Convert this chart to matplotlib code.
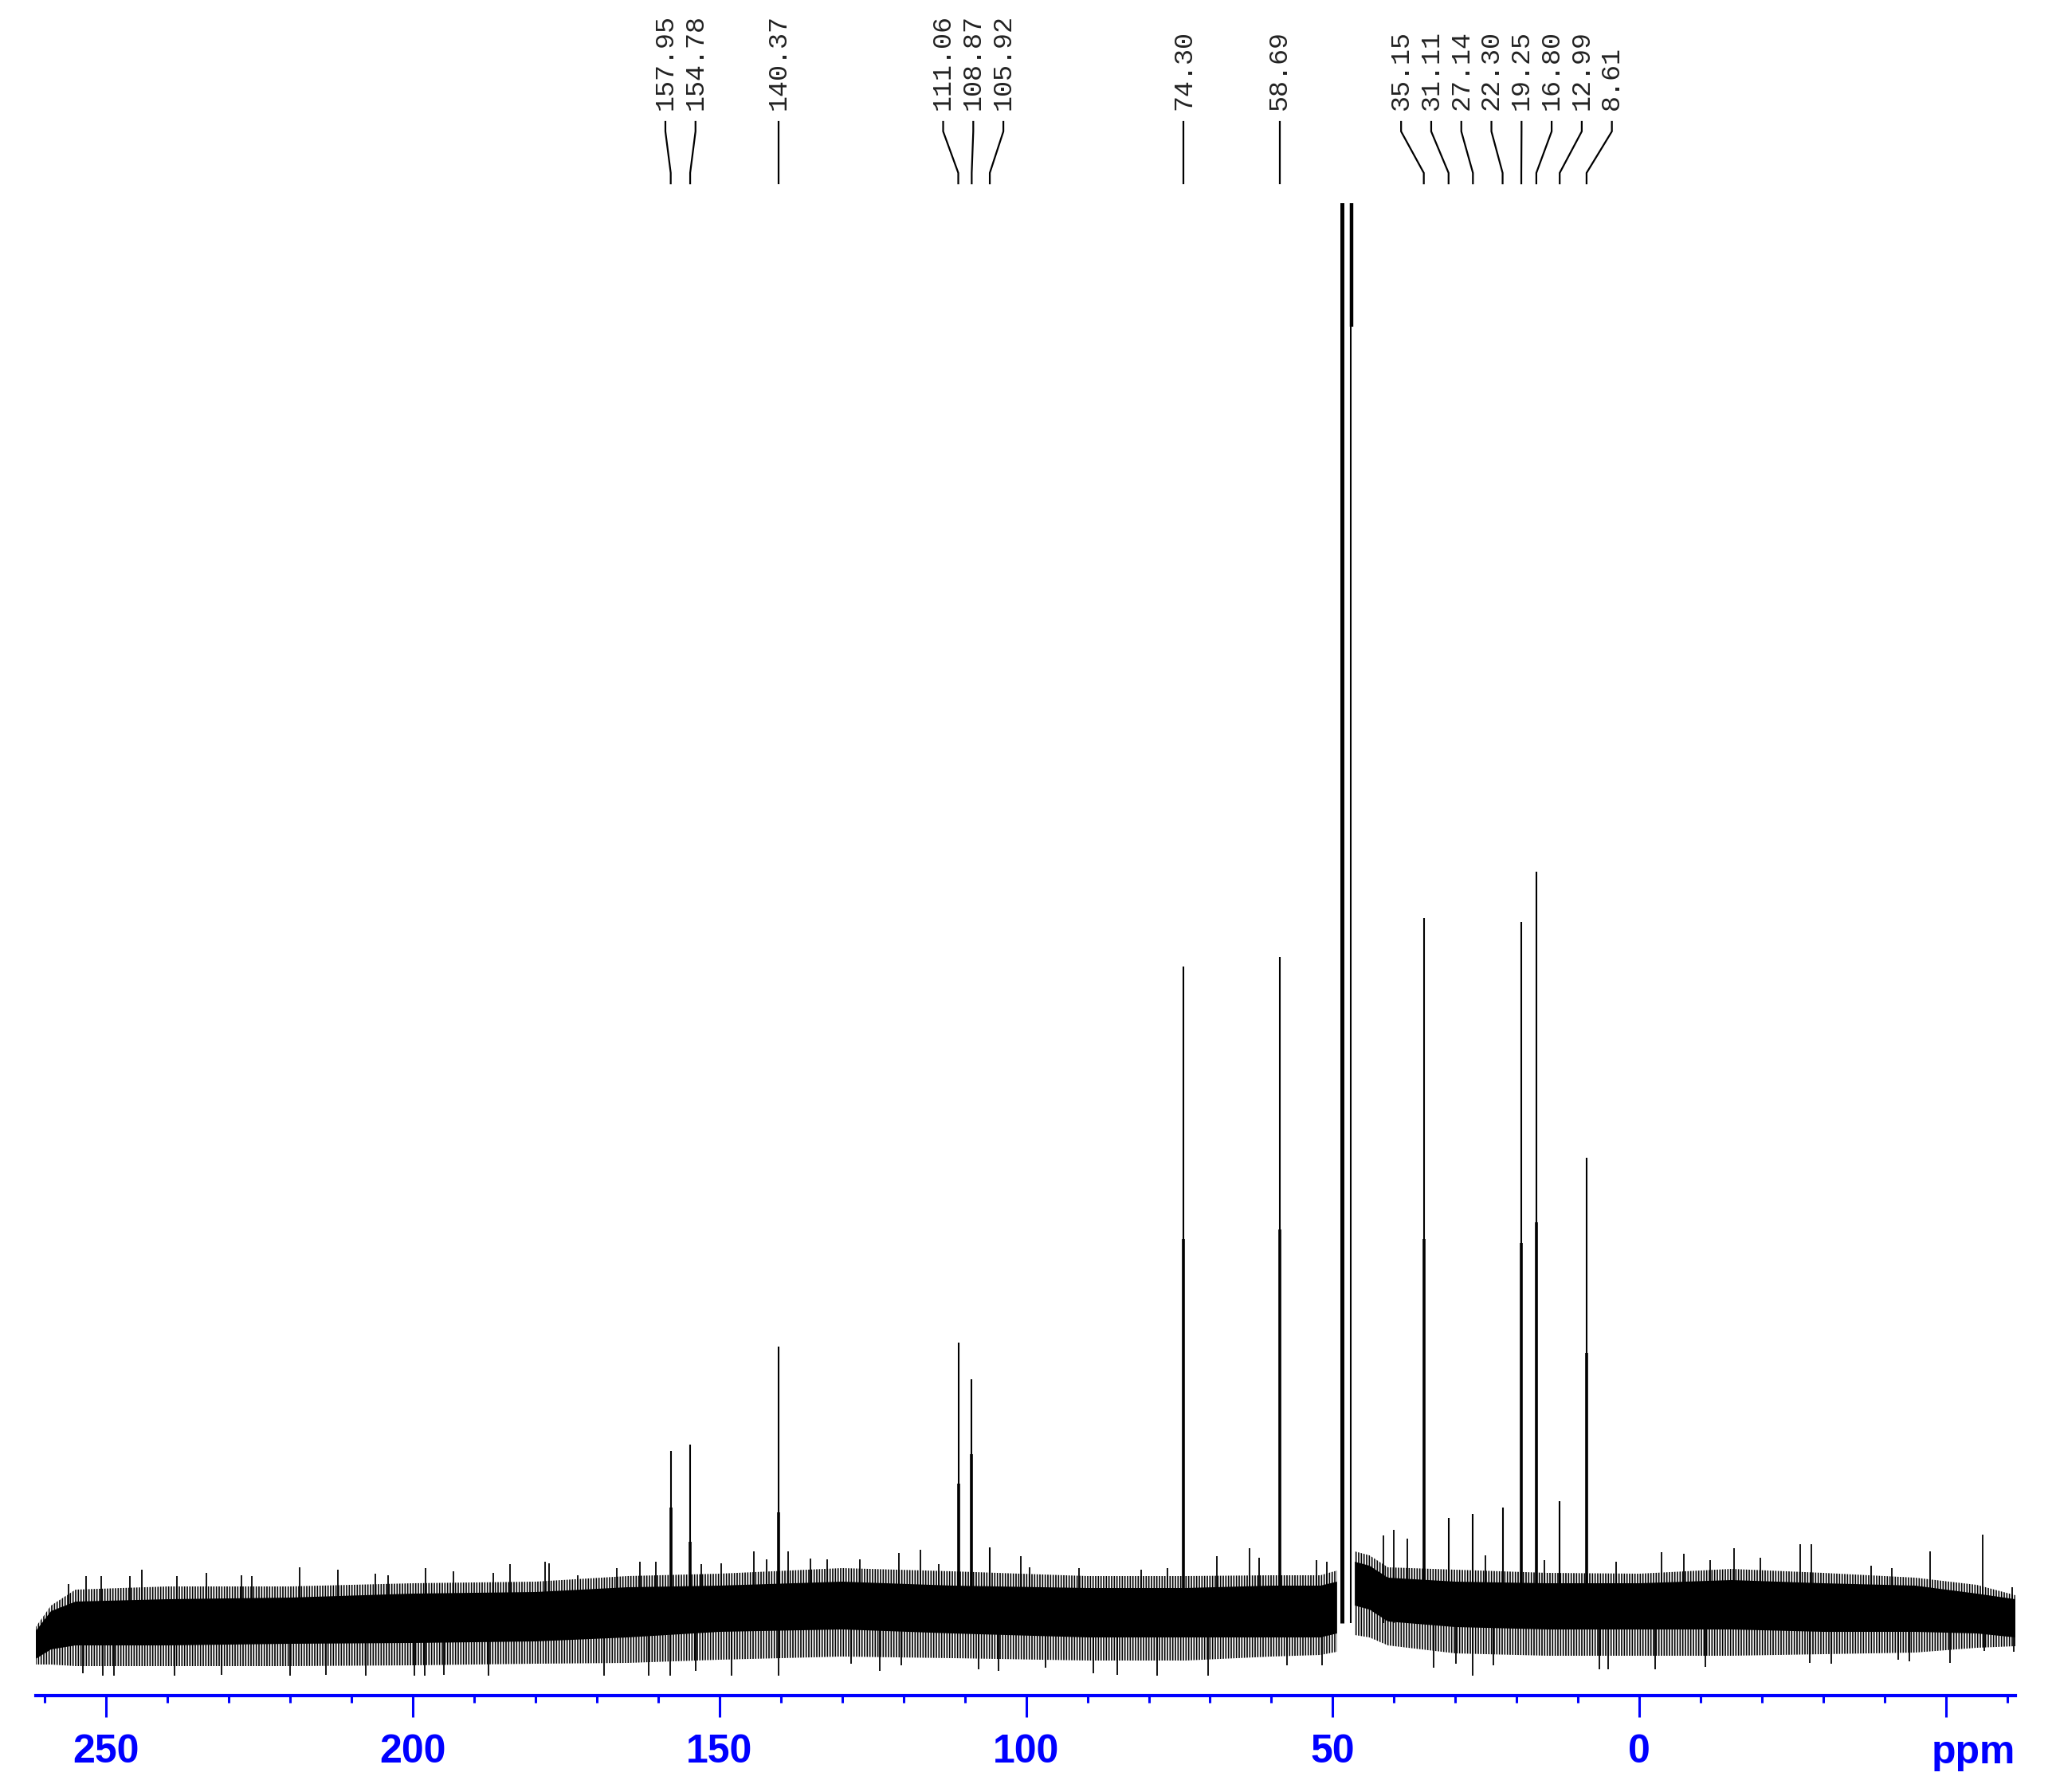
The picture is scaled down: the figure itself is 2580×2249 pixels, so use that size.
import numpy as np
import matplotlib.pyplot as plt
from matplotlib.transforms import blended_transform_factory

plt.rcParams['font.family'] = ['Liberation Sans', 'DejaVu Sans']
plt.rcParams['hatch.linewidth'] = 1.2

# labelled 13C peaks (ppm), their heights (a.u., baseline = 0)
# and the height up to which the line looks thicker
peak_ppm = [157.95, 154.78, 140.37, 111.06, 108.87, 105.92, 74.30, 58.69,
            35.15, 31.11, 27.14, 22.30, 19.25, 16.80, 12.99, 8.61]
peak_height = [21.6, 22.4, 34.7, 35.2, 30.6, 9.5, 82.4, 83.6,
               88.5, 13.2, 13.7, 14.5, 88.0, 94.3, 15.3, 58.4]
peak_shoulder = [14.5, 10.2, 13.9, 17.5, 21.2, 0, 48.2, 49.4,
                 48.2, 0, 0, 0, 47.7, 50.3, 0, 33.9]

# solvent lines (run off the top of the plot)
solvent_ppm = [48.55, 47.05, 46.98]
solvent_low = [0, 0, 162.7]
solvent_high = [200, 200, 200]

# noise spikes sticking out of the band
spike_up_ppm = [256.2, 253.3, 250.8, 246.2, 244.2, 238.5, 233.7, 227.9, 226.3,
                218.5, 212.2, 206.1, 204.0, 197.9, 193.4, 186.9, 184.1, 178.4,
                177.8, 173.1, 166.8, 163.0, 160.4, 153.0, 149.7, 144.4, 142.3,
                138.8, 135.2, 132.5, 127.1, 120.7, 117.2, 114.2, 100.9, 99.4,
                91.4, 81.3, 77.0, 68.9, 63.6, 62.0, 52.7, 50.9, 41.8, 40.1,
                37.8, 25.1, 15.5, 3.8, -3.6, -7.3, -11.5, -15.4, -19.7, -26.2,
                -28.0, -37.8, -41.2, -47.4, -56.0, -60.8]
spike_up = [4.9, 5.9, 5.9, 5.9, 6.7, 5.9, 6.3, 6.0, 5.9,
            7.0, 6.7, 6.2, 6.0, 6.9, 6.5, 6.3, 7.4, 7.7,
            7.5, 6.0, 6.9, 7.7, 7.7, 7.4, 7.5, 9.0, 8.0,
            9.0, 8.1, 8.0, 8.0, 8.8, 9.2, 7.4, 8.4, 7.0,
            6.9, 6.7, 6.9, 8.4, 9.4, 8.2, 7.9, 7.7, 11.0, 11.7,
            10.6, 8.5, 7.9, 7.7, 8.9, 8.7, 7.9, 9.4, 8.2, 9.9,
            9.9, 7.2, 6.9, 9.0, 11.1, 4.5]
spike_down_ppm = [253.8, 250.5, 248.8, 238.9, 231.2, 220.0, 214.2, 207.7, 199.8,
                  198.0, 195.0, 187.7, 168.8, 161.5, 158.1, 153.9, 148.0, 140.3,
                  128.5, 123.9, 120.3, 107.8, 104.5, 96.8, 89.1, 85.2, 78.7,
                  70.3, 57.4, 51.8, 33.5, 29.9, 27.2, 23.8, 6.5, 5.1, -2.6,
                  -10.8, -27.8, -31.3, -42.2, -44.0, -50.6, -56.2, -61.0]
spike_down = [-6.3, -6.6, -6.6, -6.6, -6.5, -6.6, -6.5, -6.6, -6.6,
              -6.6, -6.5, -6.6, -6.6, -6.6, -6.6, -6.0, -6.6, -6.6,
              -5.1, -6.0, -5.3, -5.8, -6.0, -5.6, -6.3, -6.5, -6.6,
              -6.6, -5.3, -5.3, -5.6, -5.1, -6.6, -5.3, -5.8, -5.8, -5.8,
              -5.5, -5.0, -5.1, -4.6, -4.8, -5.0, -3.5, -3.6]

# noise band (nan = gap under the solvent lines)
noise_ppm = [261.5, 259, 255, 240, 220, 200, 180, 165, 150, 130, 112, 90, 74,
             60, 52, 49.3, np.nan, 46.4, 44, 41, 30, 15, 0, -15, -30, -45, -55, -61.3]
noise_fringe_top = [-0.5, 2.2, 4.2, 4.6, 4.6, 5.0, 5.2, 5.9, 6.2, 6.9, 6.5, 5.9, 5.9,
                    6.0, 6.0, 6.6, np.nan, 9.0, 8.5, 7.0, 6.7, 6.3, 6.2, 6.8, 6.3, 5.7, 4.8, 3.5]
noise_core_top = [-1.0, 1.5, 2.7, 3.0, 3.2, 3.7, 3.9, 4.5, 4.7, 5.2, 4.7, 4.4, 4.4,
                  4.7, 4.7, 5.2, np.nan, 7.7, 7.2, 5.7, 5.2, 5.0, 5.0, 5.4, 5.0, 4.7, 3.7, 3.0]
noise_core_bottom = [-4.5, -3.3, -2.8, -2.8, -2.6, -2.5, -2.3, -1.8, -1.1, -0.8, -1.3, -1.8, -1.8,
                     -1.8, -1.8, -1.3, np.nan, 2.2, 1.7, 0.2, -0.5, -0.8, -0.8, -0.8, -1.1, -1.1, -1.3, -1.8]
noise_fringe_bottom = [-5.2, -5.2, -5.4, -5.4, -5.4, -5.3, -5.1, -5.0, -4.6, -4.2, -4.4, -4.7, -4.7,
                       -4.2, -4.0, -3.6, np.nan, -1.5, -1.8, -2.8, -3.8, -4.1, -4.1, -4.1, -3.9, -3.7, -3.1, -2.9]

tick_values = [250, 200, 150, 100, 50, 0, -50]
tick_labels = ['250', '200', '150', '100', '50', '0', '']


def spread_labels(positions, gap):
    # group peaks whose labels would overlap and space them evenly
    groups = [[p] for p in positions]
    changed = True
    while changed:
        changed = False
        for i in range(len(groups) - 1):
            a, b = groups[i], groups[i + 1]
            a_last = np.mean(a) - gap * (len(a) - 1) / 2
            b_first = np.mean(b) + gap * (len(b) - 1) / 2
            if a_last - b_first < gap:
                groups[i] = a + b
                del groups[i + 1]
                changed = True
                break
    out = []
    for g in groups:
        c = np.mean(g)
        n = len(g)
        out += [c + gap * ((n - 1) / 2 - k) for k in range(n)]
    return out


fig = plt.figure(figsize=(25.8, 22.49), dpi=100)
ax = fig.add_axes([0.01736, 0.0538, 0.96284, 0.8328])

npm = np.array(noise_ppm, dtype=float)
ax.fill_between(npm, noise_fringe_bottom, noise_fringe_top, facecolor='none',
                edgecolor='black', hatch='|||||', linewidth=0)
ax.fill_between(npm, noise_core_bottom, noise_core_top, color='black', linewidth=0)
ax.vlines(spike_up_ppm, 0, spike_up, color='black', lw=1.3)
ax.vlines(spike_down_ppm, spike_down, 0, color='black', lw=1.3)

ax.vlines(peak_ppm, 0, peak_height, color='black', lw=1.5, zorder=3)
ax.vlines(peak_ppm, 0, peak_shoulder, color='black', lw=2.6, zorder=3)
ax.vlines(solvent_ppm, solvent_low, solvent_high, color='black',
          linewidths=[3.6, 1.5, 3.2], zorder=3)

ax.set_xlim(261.5, -61.3)
ax.set_ylim(-9.1, 178.2)

# peak labels with leader lines
trans = blended_transform_factory(ax.transData, ax.transAxes)
label_x = spread_labels(peak_ppm, 4.91)
for p, lx in zip(peak_ppm, label_x):
    ax.plot([lx, lx, p, p], [1.0545, 1.0481, 1.0203, 1.0133], color='black',
            lw=1.6, transform=trans, clip_on=False)
    ax.text(lx, 1.0625, f'{p:.2f}', transform=trans, rotation=90, ha='center',
            va='bottom', fontsize=24, family='Liberation Mono', color='#222222')

# axis styling
for s in ['top', 'left', 'right']:
    ax.spines[s].set_visible(False)
ax.spines['bottom'].set_color('blue')
ax.spines['bottom'].set_linewidth(3)
ax.set_yticks([])
ax.set_xticks(tick_values)
ax.set_xticks(np.arange(260, -61, -10), minor=True)
ax.set_xticklabels(tick_labels, fontweight='bold', fontsize=36, color='blue')
ax.tick_params(axis='x', which='major', length=19.4, width=2.2, color='blue', pad=15.5)
ax.tick_params(axis='x', which='minor', length=6.5, width=2.2, color='blue')
ax.text(1.0, -0.0454, 'ppm', transform=ax.transAxes, ha='right', va='baseline',
        fontsize=36, fontweight='bold', color='blue')

fig.savefig('out.png', dpi=100)
